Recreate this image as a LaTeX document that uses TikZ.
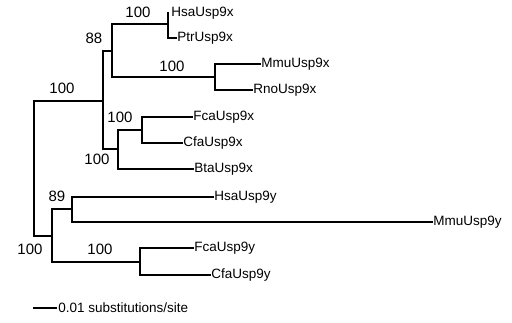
\documentclass[tikz,border=0pt]{standalone}
\usepackage{fontspec}
\setmainfont{Liberation Sans}
\begin{document}
\begin{tikzpicture}[x=1pt,y=-1pt,
  br/.style={line width=2.3pt,line cap=rect},
  leaf/.style={anchor=west,inner sep=1.2pt,font=\fontsize{13.5}{15}\selectfont},
  sup/.style={inner sep=0pt,font=\fontsize{15}{17}\selectfont}]
\useasboundingbox (0,0) rectangle (512,322);
% internal nodes (x of vertical line, y of incoming branch)
\coordinate (root) at (34,168);
\coordinate (X) at (103,101);
\coordinate (N88) at (112,51);
\coordinate (HP) at (168,24);
\coordinate (MR) at (215,77);
\coordinate (FCB) at (118,149);
\coordinate (FC) at (142,130);
\coordinate (Y) at (52,236);
\coordinate (HMy) at (72,209);
\coordinate (FCy) at (140,262);
% leaf tips
\coordinate (hsaX) at (168,13);
\coordinate (ptrX) at (176,38);
\coordinate (mmuX) at (260,64);
\coordinate (rnoX) at (252,90);
\coordinate (fcaX) at (192,117);
\coordinate (cfaX) at (182,143);
\coordinate (btaX) at (193,169);
\coordinate (hsaY) at (213,197);
\coordinate (mmuY) at (432,222);
\coordinate (fcaY) at (193,248);
\coordinate (cfaY) at (210,275);
% vertical lines
\draw[br] (root |- X) -- (root |- Y);
\draw[br] (X |- N88) -- (X |- FCB);
\draw[br] (N88 |- HP) -- (N88 |- MR);
\draw[br] (HP |- hsaX) -- (HP |- ptrX);
\draw[br] (MR |- mmuX) -- (MR |- rnoX);
\draw[br] (FCB |- FC) -- (FCB |- btaX);
\draw[br] (FC |- fcaX) -- (FC |- cfaX);
\draw[br] (Y |- HMy) -- (Y |- FCy);
\draw[br] (HMy |- hsaY) -- (HMy |- mmuY);
\draw[br] (FCy |- fcaY) -- (FCy |- cfaY);
% horizontal branches
\draw[br] (root |- X) -- (X);
\draw[br] (root |- Y) -- (Y);
\draw[br] (X |- N88) -- (N88);
\draw[br] (X |- FCB) -- (FCB);
\draw[br] (N88 |- HP) -- (HP);
\draw[br] (N88 |- MR) -- (MR);
\draw[br] (HP |- ptrX) -- (ptrX);
\draw[br] (MR |- mmuX) -- (mmuX);
\draw[br] (MR |- rnoX) -- (rnoX);
\draw[br] (FCB |- FC) -- (FC);
\draw[br] (FCB |- btaX) -- (btaX);
\draw[br] (FC |- fcaX) -- (fcaX);
\draw[br] (FC |- cfaX) -- (cfaX);
\draw[br] (Y |- HMy) -- (HMy);
\draw[br] (Y |- FCy) -- (FCy);
\draw[br] (HMy |- hsaY) -- (hsaY);
\draw[br] (HMy |- mmuY) -- (mmuY);
\draw[br] (FCy |- fcaY) -- (fcaY);
\draw[br] (FCy |- cfaY) -- (cfaY);
% leaf names
\node[leaf] (thsaX) at ([xshift=2pt]hsaX) {HsaUsp9x};
\node[leaf] (tptrX) at (ptrX) {PtrUsp9x};
\node[leaf] (tmmuX) at (mmuX) {MmuUsp9x};
\node[leaf] (trnoX) at (rnoX) {RnoUsp9x};
\node[leaf] (tfcaX) at (fcaX) {FcaUsp9x};
\node[leaf] (tcfaX) at (cfaX) {CfaUsp9x};
\node[leaf] (tbtaX) at (btaX) {BtaUsp9x};
\node[leaf] (thsaY) at (hsaY) {HsaUsp9y};
\node[leaf] (tmmuY) at (mmuY) {MmuUsp9y};
\node[leaf] (tfcaY) at (fcaY) {FcaUsp9y};
\node[leaf] (tcfaY) at (cfaY) {CfaUsp9y};
% support values
\node[sup] (sHP) at (138,12) {100};
\node[sup] (s88) at (94,38) {88};
\node[sup] (sMR) at (172,66) {100};
\node[sup] (sX) at (62,88) {100};
\node[sup] (sFC) at (120,117) {100};
\node[sup] (sFCB) at (97,159) {100};
\node[sup] (s89) at (57,196) {89};
\node[sup] (sroot) at (30,249) {100};
\node[sup] (sFCy) at (100,249) {100};
% scale bar
\coordinate (sb1) at (33,308);
\coordinate (sb2) at (57,308);
\draw[line width=2.3pt] (sb1) -- (sb2);
\node[leaf] (sbt) at (sb2) {0.01 substitutions/site};
\end{tikzpicture}
\end{document}
